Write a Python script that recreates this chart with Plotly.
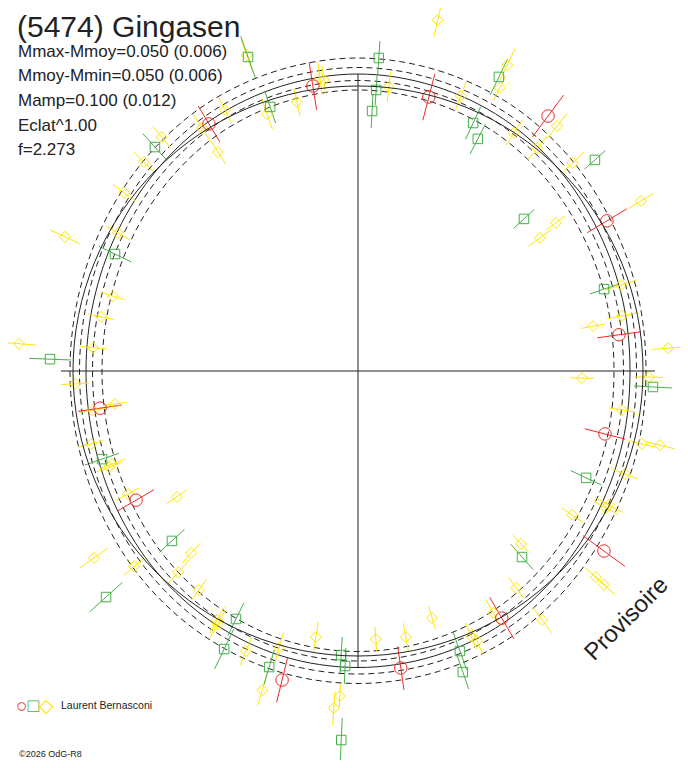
import numpy as np
import plotly.graph_objects as go

# observations: phase angle (deg, clockwise from top), radius, radial error
red_phase = [351.0, 14.5, 36.7, 58.9, 82.1, 104.3, 126.2, 149.8, 171.8, 193.8, 239.8, 261.8, 328.9]
red_r = [288.5, 283.0, 318.0, 290.7, 263.5, 254.9, 304.8, 285.9, 300.1, 318.2, 256.8, 260.6, 288.5]
red_err = [24, 24, 26, 23, 22, 21, 26, 24, 22, 23, 21, 22, 21]

green_phase = [3.8, 3.7, 3.1, 25.6, 24.9, 27.3, 48.3, 47.5, 71.6, 93.1, 115.1, 138.6, 160.0, 160.8,
               183.4, 182.5, 182.6, 196.7, 205.7, 206.2, 228.1, 227.6, 251.0, 272.2, 295.7, 317.8,
               340.7, 341.6]
green_r = [313.7, 281.6, 260.4, 326.1, 273.4, 261.2, 317.3, 225.1, 259.3, 295.4, 251.9, 248.0, 298.0,
           318.8, 284.5, 295.3, 369.4, 309.1, 308.6, 276.4, 338.5, 252.0, 270.7, 308.2, 269.7, 302.3,
           332.7, 278.3]
green_err = [17, 15, 17, 20, 18, 17, 14, 14, 15, 19, 17, 17, 20, 18, 18, 18, 22, 18, 22, 18, 22, 17,
             18, 21, 18, 18, 22, 17]

yellow_phase = [12.8, 6.2, 20.5, 26.0, 26.6, 33.2, 39.1, 38.8, 45.9, 59.0, 53.8, 53.2, 71.9, 78.2,
                79.2, 85.8, 91.8, 91.2, 98.4, 104.4, 103.8, 111.1, 118.1, 118.9, 123.9, 136.7,
                130.9, 131.0, 143.9, 150.8, 143.5, 163.3, 156.9, 156.2, 169.8, 176.2, 183.2, 184.1,
                189.0, 195.9, 196.7, 201.8, 209.5, 209.0, 216.0, 221.8, 222.5, 228.9, 234.7, 235.2,
                241.9, 249.3, 248.9, 254.7, 262.3, 261.6, 267.4, 275.0, 274.6, 281.9, 287.0, 299.9,
                294.6, 307.3, 314.3, 320.0, 327.3, 333.0, 327.4, 340.6, 340.5, 347.2, 352.6, 353.3]
yellow_r = [360.0, 285.7, 293.7, 340.4, 316.6, 284.6, 315.6, 286.0, 299.1, 330.1, 225.4, 247.2, 276.7,
            269.7, 239.3, 310.9, 224.1, 291.1, 266.9, 293.2, 310.9, 286.2, 284.5, 283.3, 257.9, 237.7,
            314.8, 326.0, 268.4, 277.1, 309.6, 257.8, 288.1, 295.1, 270.3, 268.6, 325.5, 337.9,
            269.3, 288.0, 333.1, 301.6, 286.1, 289.5, 270.6, 269.8, 247.0, 297.0, 323.5, 220.5,
            260.8, 263.0, 266.9, 276.8, 245.2, 267.9, 283.3, 266.0, 340.1, 262.6, 256.2, 276.8,
            322.2, 294.0, 299.1, 305.2, 288.8, 292.9, 259.9, 334.9, 272.6, 275.8, 295.5, 293.0]
yellow_err = [17, 15, 15, 18, 14, 15, 16, 15, 16, 15, 14, 12, 16, 15, 12, 16, 12, 14, 13, 14, 15, 14,
              16, 14, 13, 12, 15, 15, 13, 15, 16, 12, 14, 14, 14, 12, 12, 17, 15, 16, 16, 15, 15, 15,
              13, 17, 14, 14, 17, 12, 13, 14, 13, 13, 12, 14, 14, 14, 17, 13, 12, 14, 16, 14, 14, 14,
              16, 14, 14, 17, 16, 14, 16, 14]

# fitted light curve (radius read every 15 deg) and its envelopes
fit_phase = list(range(0, 360, 15))
fit_r = [297, 295, 291, 284.5, 278, 274, 272, 274, 278, 284.5, 291, 295,
         296.5, 295, 290.5, 284.5, 278, 273.5, 272, 273.5, 278, 284.5, 291, 295]
band_offsets = [-16, -6.5, 6.5, 16]
mean_radius = 285
axis_half = 297

FONT = "Liberation Sans, Arial, sans-serif"
INK = "#222222"
RED = "#f02828"
GREEN = "#45b04a"
YELLOW = "#ffe600"

# page has an 8px body margin: figure is 672x752, plot centre at (350, 363) inside it
FIG_W, FIG_H = 672, 752
CX, CY = 350, 363


def to_xy(phase, r):
    a = np.radians(np.asarray(phase, dtype=float))
    r = np.asarray(r, dtype=float)
    return r * np.sin(a), r * np.cos(a)


def bar_xy(phase, r, err):
    xs, ys = [], []
    for p, rr, e in zip(phase, r, err):
        bx, by = to_xy([p, p], [rr - e, rr + e])
        xs += [bx[0], bx[1], None]
        ys += [by[0], by[1], None]
    return xs, ys


fig = go.Figure()

# curves
closed_phase = fit_phase + [fit_phase[0]]
closed_r = np.array(fit_r + [fit_r[0]], dtype=float)
for off in band_offsets:
    cx, cy = to_xy(closed_phase, closed_r + off)
    fig.add_trace(go.Scatter(x=cx, y=cy, mode="lines", hoverinfo="skip",
                             line=dict(color=INK, width=1, dash="6px,4px", shape="spline")))
cx, cy = to_xy(closed_phase, closed_r)
fig.add_trace(go.Scatter(x=cx, y=cy, mode="lines", hoverinfo="skip",
                         line=dict(color=INK, width=1, shape="spline")))

series = [
    (yellow_phase, yellow_r, yellow_err, YELLOW, "diamond-open", 8.5),
    (green_phase, green_r, green_err, GREEN, "square-open", 9.5),
    (red_phase, red_r, red_err, RED, "circle-open", 12.5),
]
for ph, rr, ee, col, sym, size in series:
    bx, by = bar_xy(ph, rr, ee)
    fig.add_trace(go.Scatter(x=bx, y=by, mode="lines", hoverinfo="skip",
                             line=dict(color=col, width=1)))
for ph, rr, ee, col, sym, size in series:
    px, py = to_xy(ph, rr)
    fig.add_trace(go.Scatter(x=px, y=py, mode="markers", cliponaxis=False,
                             marker=dict(symbol=sym, size=size, color=col,
                                         line=dict(color=col, width=1))))

# mean circle and axes cross
fig.add_shape(type="circle", x0=-mean_radius, x1=mean_radius, y0=-mean_radius, y1=mean_radius,
              line=dict(color=INK, width=1))
fig.add_shape(type="line", x0=-axis_half, x1=axis_half, y0=0, y1=0, line=dict(color=INK, width=1))
fig.add_shape(type="line", x0=0, x1=0, y0=-axis_half, y1=axis_half, line=dict(color=INK, width=1))

# texts (data units are pixels, centre of the plot at the origin)
def note(text, x, y, size, **kw):
    fig.add_annotation(text=text, x=x, y=y, xref="x", yref="y", showarrow=False,
                       xanchor=kw.pop("xanchor", "left"), yanchor="middle",
                       font=dict(family=FONT, size=size, color=INK), **kw)


note("(5474) Gingasen", -343, 345, 30)
info = ["Mmax-Mmoy=0.050 (0.006)", "Mmoy-Mmin=0.050 (0.006)", "Mamp=0.100 (0.012)",
        "Eclat^1.00", "f=2.273"]
for i, line in enumerate(info):
    note(line, -342, 320 - i * 24.7, 17)

note(f'<span style="color:{RED}">○</span><span style="color:{GREEN}">□</span>'
     f'<span style="color:{YELLOW}">◇</span>', -344, -334, 19)
note("Laurent Bernasconi", -299, -334, 10.5)
note("©2026 OdG-R8", -341, -383, 9)
note("Provisoire", 267, -247, 24, xanchor="center", textangle=-45)

fig.update_layout(
    width=FIG_W, height=FIG_H,
    margin=dict(l=0, r=0, t=0, b=0),
    paper_bgcolor="white", plot_bgcolor="white",
    showlegend=False,
    xaxis=dict(range=[-CX, FIG_W - CX], visible=False, fixedrange=True),
    yaxis=dict(range=[CY - FIG_H, CY], visible=False, fixedrange=True),
)

fig.write_html("out.html")
